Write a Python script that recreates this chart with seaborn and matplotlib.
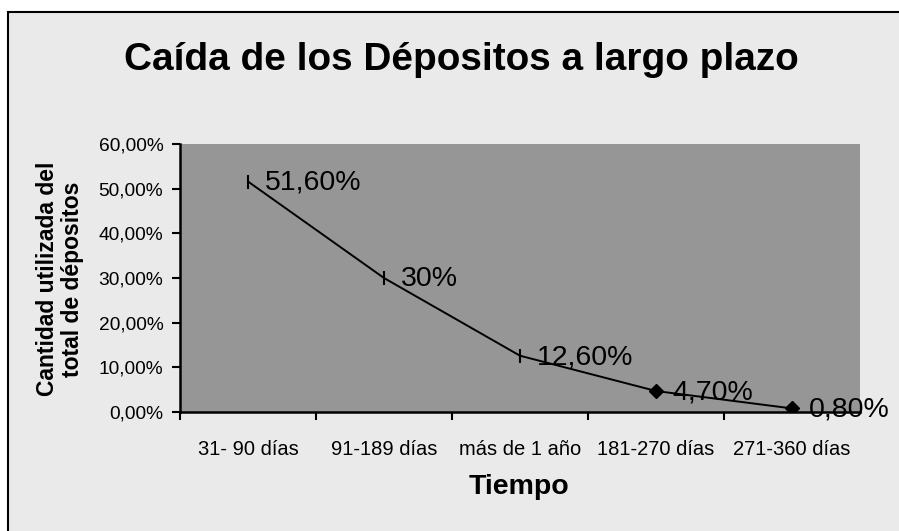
import matplotlib
matplotlib.use("Agg")
import matplotlib.pyplot as plt
from matplotlib.patches import Rectangle
from matplotlib.ticker import FixedLocator, FuncFormatter, NullFormatter
import seaborn as sns

categories = ["31- 90 días", "91-189 días", "más de 1 año", "181-270 días", "271-360 días"]
values = [0.516, 0.30, 0.126, 0.047, 0.008]
labels = ["51,60%", "30%", "12,60%", "4,70%", "0,80%"]
markers = ["|", "|", "|", "D", "D"]

sns.set_style("white")
plt.rcParams["font.family"] = ["Liberation Sans", "DejaVu Sans"]
plt.rcParams["text.color"] = "black"
plt.rcParams["xtick.color"] = "black"
plt.rcParams["ytick.color"] = "black"

W, H = 899, 531
fig = plt.figure(figsize=(W / 100, H / 100), dpi=100)
fig.patch.set_facecolor("white")

# outer chart box (cut off at right/bottom like the source)
fig.patches.append(Rectangle((8 / W, -0.05), 1.05, 1 - 12 / H + 0.05,
                             transform=fig.transFigure, facecolor="#eaeaea",
                             edgecolor="black", linewidth=1.5, zorder=-5))

left, right, top, bottom = 180, 860, 144, 412
ax = fig.add_axes([left / W, 1 - bottom / H, (right - left) / W, (bottom - top) / H])
ax.set_zorder(2)
ax.set_facecolor("#969696")

pos = list(range(len(categories)))
sns.lineplot(x=pos, y=values, ax=ax, color="black", linewidth=1.4)
for x, y, m in zip(pos, values, markers):
    if m == "|":
        ax.plot(x, y, marker="|", color="black", markersize=9.5, markeredgewidth=1.5)
    else:
        ax.plot(x, y, marker="D", color="black", markersize=7.5)
for x, y, t in zip(pos, values, labels):
    ax.annotate(t, (x, y), xytext=(12, -1), textcoords="offset points",
                va="center", ha="left", fontsize=20.5, color="black",
                annotation_clip=False, zorder=5)

ax.set_xlim(-0.5, 4.5)
ax.set_ylim(0, 0.6)
ax.yaxis.set_major_locator(FixedLocator([i / 10 for i in range(7)]))
ax.yaxis.set_major_formatter(FuncFormatter(lambda v, p: f"{v * 100:.2f}%".replace(".", ",")))
ax.xaxis.set_major_locator(FixedLocator([-0.5, 0.5, 1.5, 2.5, 3.5]))
ax.xaxis.set_major_formatter(NullFormatter())
ax.xaxis.set_minor_locator(FixedLocator(pos))
ax.set_xticklabels(categories, minor=True)
ax.tick_params(axis="x", which="major", bottom=True, length=6, width=1.5,
               color="black", direction="out")
ax.tick_params(axis="x", which="minor", bottom=True, length=0, pad=20, labelsize=14.5)
ax.tick_params(axis="y", left=True, length=6, width=1.5, color="black", direction="out",
               labelsize=13.8, pad=6)
for s in ["top", "right"]:
    ax.spines[s].set_visible(False)
for s in ["left", "bottom"]:
    ax.spines[s].set_color("black")
    ax.spines[s].set_linewidth(1.8)
ax.set_xlabel("")
ax.set_ylabel("")

fig.text(461 / W, 1 - 60 / H, "Caída de los Dépositos a largo plazo",
         ha="center", va="center", fontsize=27.9, fontweight="bold")
fig.text(519 / W, 1 - 487 / H, "Tiempo", ha="center", va="center",
         fontsize=20.5, fontweight="bold")
fig.text(60 / W, 1 - 279 / H, "Cantidad utilizada del\ntotal de dépositos",
         ha="center", va="center", rotation=90, fontsize=16.5,
         fontweight="bold", linespacing=1.12)

fig.savefig("out.png", dpi=100, facecolor="white")
